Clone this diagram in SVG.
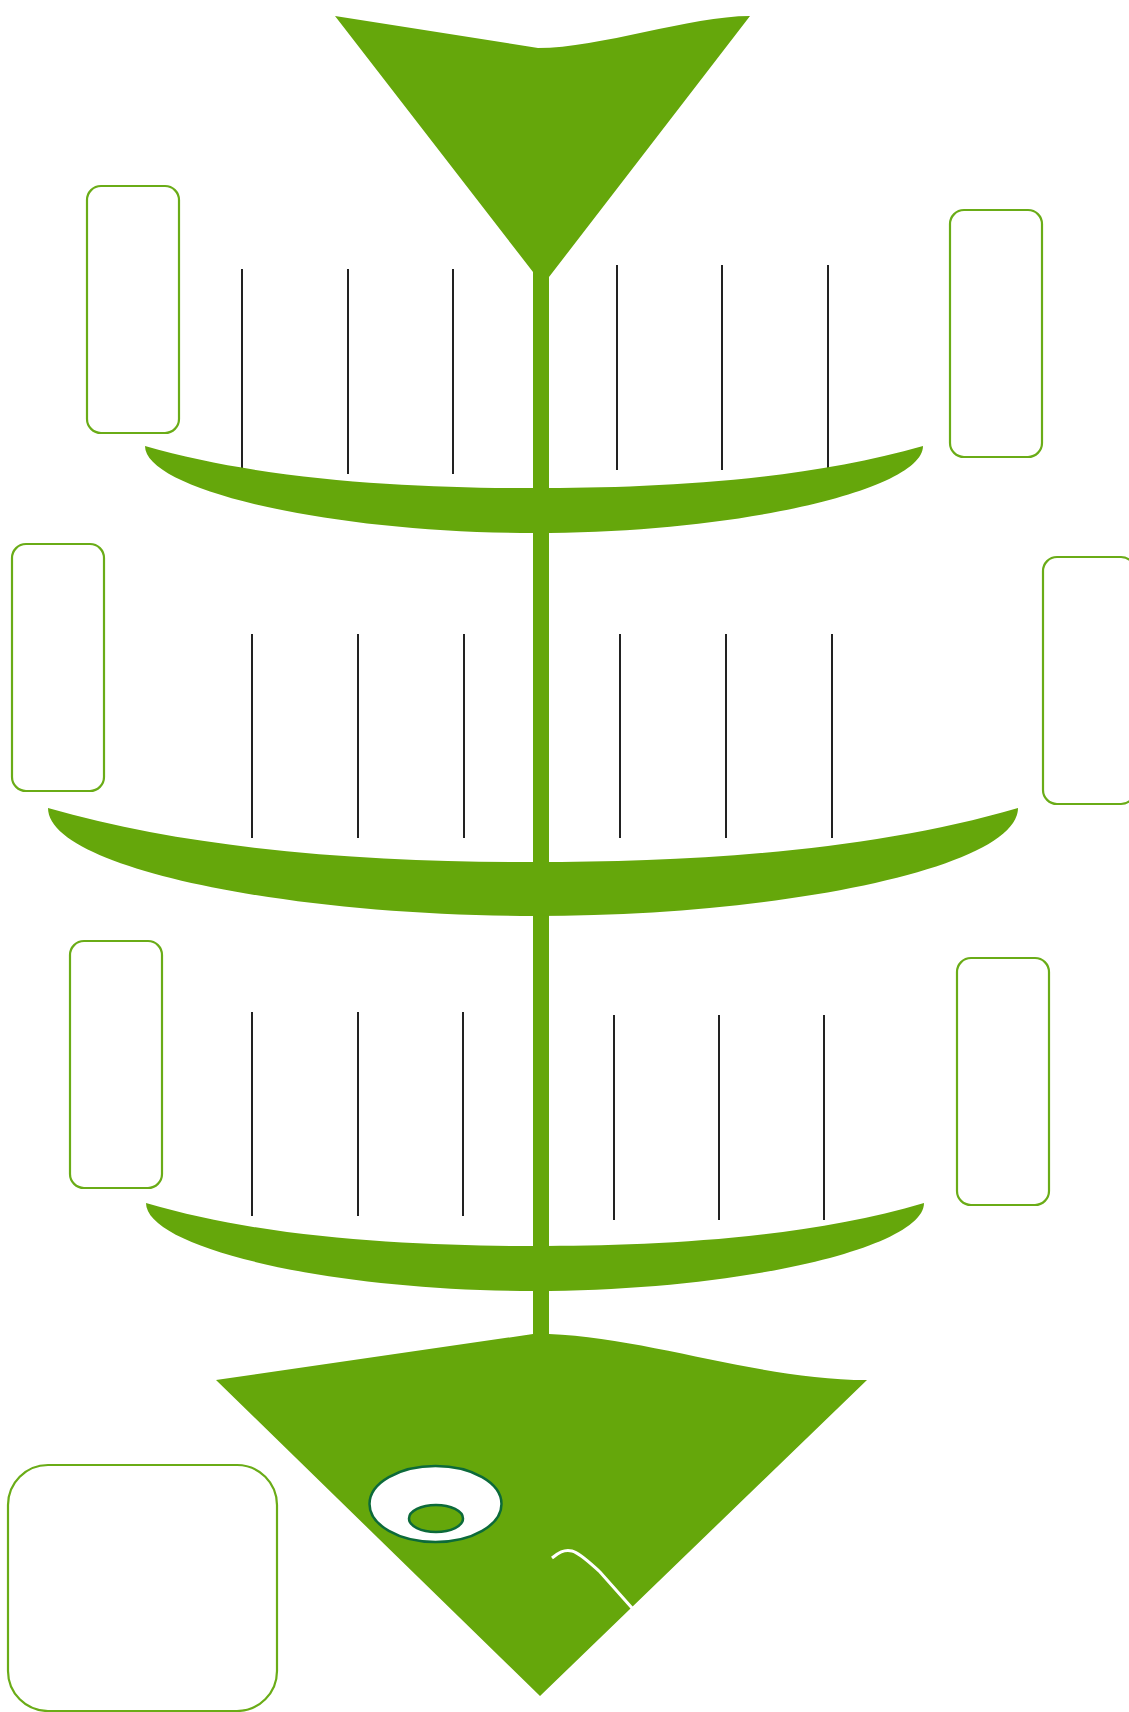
<svg xmlns="http://www.w3.org/2000/svg" width="1129" height="1712" viewBox="0 0 1129 1712">
<style>
.fish{fill:#65a70b}
.box{fill:none;stroke:#6aac17;stroke-width:2.2}
.bone{stroke:#222;stroke-width:2;fill:none}
.eye{stroke:#0c6a3a;stroke-width:2.5}
</style>
<rect width="1129" height="1712" fill="#fff"/>
<g id="connectors">
<line class="bone" x1="242" y1="269" x2="242" y2="468"/>
<line class="bone" x1="348" y1="269" x2="348" y2="474"/>
<line class="bone" x1="453" y1="269" x2="453" y2="474"/>
<line class="bone" x1="617" y1="265" x2="617" y2="470"/>
<line class="bone" x1="722" y1="265" x2="722" y2="470"/>
<line class="bone" x1="828" y1="265" x2="828" y2="470"/>
<line class="bone" x1="252" y1="634" x2="252" y2="838"/>
<line class="bone" x1="358" y1="634" x2="358" y2="838"/>
<line class="bone" x1="464" y1="634" x2="464" y2="838"/>
<line class="bone" x1="620" y1="634" x2="620" y2="838"/>
<line class="bone" x1="726" y1="634" x2="726" y2="838"/>
<line class="bone" x1="832" y1="634" x2="832" y2="838"/>
<line class="bone" x1="252" y1="1012" x2="252" y2="1216"/>
<line class="bone" x1="358" y1="1012" x2="358" y2="1216"/>
<line class="bone" x1="463" y1="1012" x2="463" y2="1216"/>
<line class="bone" x1="614" y1="1015" x2="614" y2="1220"/>
<line class="bone" x1="719" y1="1015" x2="719" y2="1220"/>
<line class="bone" x1="824" y1="1015" x2="824" y2="1220"/>
</g>
<g id="skeleton">
<path class="fish" d="M335,16 L538,48 C600,48 690,16 750,16 L549,277 L549,282 L533,282 L533,272 Z"/>
<rect class="fish" x="533" y="270" width="16" height="1070"/>
<path class="fish" d="M145,446 C270,482 420,488 534,488 C648,488 798,482 923,446 C923,490 738,533 534,533 C330,533 145,490 145,446 Z"/>
<path class="fish" d="M48,808 C200,852 380,862 534,862 C688,862 868,852 1018,808 C1018,868 780,916 534,916 C288,916 48,868 48,808 Z"/>
<path class="fish" d="M146,1203 C271,1240 421,1246 534,1246 C648,1246 799,1240 924,1203 C924,1248 739,1291 534,1291 C330,1291 146,1248 146,1203 Z"/>
<path class="fish" d="M216,1380 L533,1334 L549,1334 C650,1338 760,1380 867,1380 L540,1696 Z"/>
<ellipse class="eye" cx="435.5" cy="1504" rx="66" ry="38" fill="#fff"/>
<ellipse class="eye" cx="436" cy="1518.5" rx="27" ry="13.5" fill="#65a70b"/>
<path d="M552,1558 C558,1553 564,1549 572,1551 C580,1553 590,1563 600,1572 L632,1608" fill="none" stroke="#fff" stroke-width="3"/>
</g>
<g id="box1"><rect class="box" x="87" y="186" width="92" height="247" rx="14"/></g>
<g id="box2"><rect class="box" x="950" y="210" width="92" height="247" rx="14"/></g>
<g id="box3"><rect class="box" x="12" y="544" width="92" height="247" rx="14"/></g>
<g id="box4"><rect class="box" x="1043" y="557" width="92" height="247" rx="14"/></g>
<g id="box5"><rect class="box" x="70" y="941" width="92" height="247" rx="14"/></g>
<g id="box6"><rect class="box" x="957" y="958" width="92" height="247" rx="14"/></g>
<g id="box7"><rect class="box" x="8" y="1465" width="269" height="246" rx="40"/></g>
</svg>
